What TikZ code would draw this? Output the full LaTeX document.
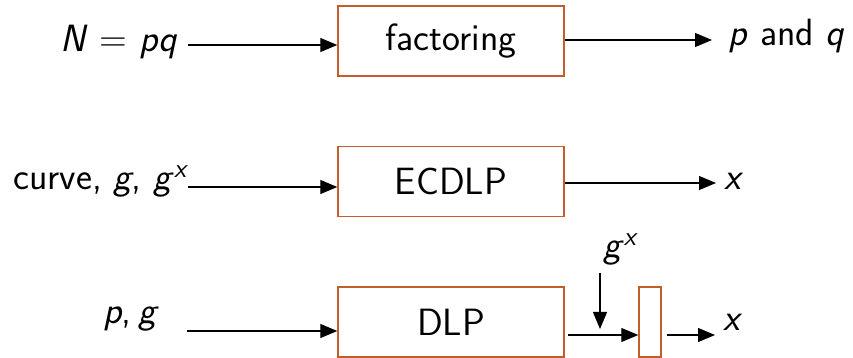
\documentclass[tikz,border=0pt]{standalone}
\usetikzlibrary{arrows.meta}
\definecolor{boxedge}{RGB}{192,94,44}
\tikzset{
  blk/.style={draw=boxedge,line width=0.7pt,minimum width=113pt,minimum height=35pt,inner sep=0pt,font=\fontsize{19}{22}\selectfont\sffamily},
  lbl/.style={inner sep=0pt,font=\fontsize{19}{22}\selectfont\sffamily},
  flow/.style={-{Triangle[length=8.5pt,width=7pt]},line width=0.55pt}
}
\begin{document}
\begin{tikzpicture}[x=0.5pt,y=-0.5pt]
  \useasboundingbox (0,0) rectangle (853,358);
  % boxes
  \node[blk] (fact) at (451,41) {factoring};
  \node[blk] (ecdlp) at (451,181.5) {ECDLP};
  \node[blk] (dlp) at (451,322) {DLP};
  \node[blk,minimum width=11pt] (chk) at (650,322) {};
  % labels
  \node[lbl,anchor=base east] (nval) at (178,52) {\textit{N} = \textit{pq}};
  \node[lbl,anchor=base west] (pq) at (728,46) {\textit{p} and \textit{q}};
  \node[lbl,anchor=base west] (cur) at (13,190) {curve, \textit{g}, \textit{g}\textsuperscript{\textit{x}}};
  \node[lbl,anchor=base west] (xe) at (724,190) {\textit{x}};
  \node[lbl,anchor=base west] (pg) at (103,323) {\textit{p},\,\textit{g}};
  \node[lbl,anchor=base west] (gx) at (603,258) {\textit{g}\textsuperscript{\textit{x}}};
  \node[lbl,anchor=base west] (xd) at (723,330) {\textit{x}};
  % arrow ends
  \coordinate (f-in) at (188,45);
  \coordinate (f-out) at (712,40);
  \coordinate (e-in) at (188,187);
  \coordinate (e-out) at (716,183);
  \coordinate (d-in) at (187,331);
  \coordinate (d-out) at (568,335);
  \coordinate (c-out) at (667,335);
  \coordinate (c-end) at (715,335);
  \coordinate (g-in) at (600,273);
  \coordinate (g-end) at (600,329);
  % factoring
  \draw[flow] (f-in) -- (f-in -| fact.west);
  \draw[flow] (f-out -| fact.east) -- (f-out);
  % ECDLP
  \draw[flow] (e-in) -- (e-in -| ecdlp.west);
  \draw[flow] (e-out -| ecdlp.east) -- (e-out);
  % DLP
  \draw[flow] (d-in) -- (d-in -| dlp.west);
  \draw[flow] (d-out) -- (d-out -| chk.west);
  \draw[flow] (g-in) -- (g-end);
  \draw[flow] (c-out) -- (c-end);
\end{tikzpicture}
\end{document}
